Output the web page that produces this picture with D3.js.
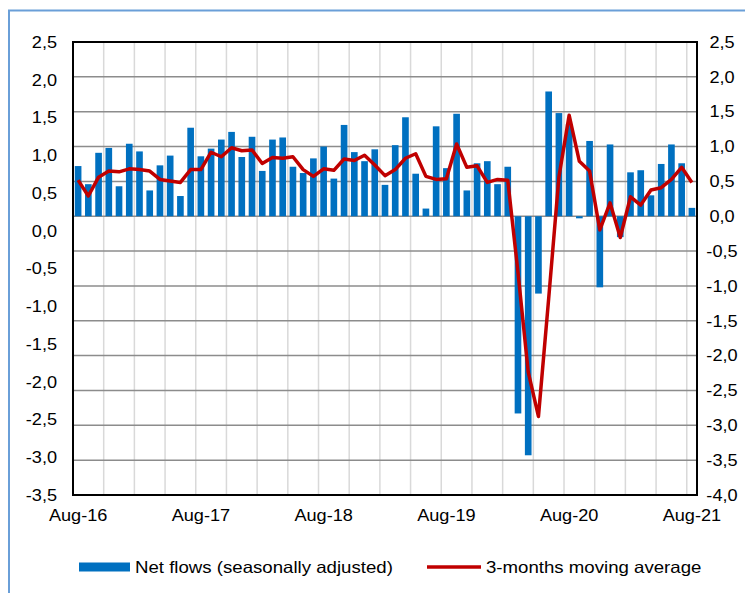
<!DOCTYPE html>
<html>
<head>
<meta charset="utf-8">
<script src="https://cdn.jsdelivr.net/npm/d3@7"></script>
<style>
    body { margin: 0; background: #fff; }
    svg text { font-family: "Liberation Sans", Arial, sans-serif; fill: #000; }
</style>
</head>
<body>
<div id="chart"></div>
<script>
// Monthly data, Aug-16 .. Aug-21
var startMonth = new Date(2016, 7, 1);
var months = d3.timeMonth.range(startMonth, new Date(2021, 8, 1));

// Net flows (seasonally adjusted), read against the right axis
var netFlows = [
    0.72, 0.46, 0.91, 0.98, 0.43, 1.04, 0.93, 0.37, 0.73, 0.87, 0.29, 1.27,
    0.86, 0.97, 1.10, 1.21, 0.85, 1.14, 0.65, 1.10, 1.13, 0.71, 0.62, 0.83,
    1.00, 0.54, 1.31, 0.92, 0.79, 0.96, 0.45, 1.02, 1.42, 0.61, 0.11, 1.29,
    0.69, 1.47, 0.37, 0.76, 0.79, 0.46, 0.71, -2.83, -3.43, -1.11, 1.79, 1.48,
    1.32, -0.03, 1.08, -1.02, 1.03, -0.30, 0.63, 0.66, 0.30, 0.75, 1.03, 0.76,
    0.12
];

// 3-months moving average, read against the left axis
var movingAvg = [
    0.67, 0.46, 0.71, 0.79, 0.78, 0.82, 0.81, 0.79, 0.68, 0.66, 0.64, 0.81,
    0.81, 1.04, 0.98, 1.10, 1.06, 1.07, 0.89, 0.97, 0.96, 0.98, 0.81, 0.72,
    0.82, 0.80, 0.95, 0.93, 1.00, 0.87, 0.73, 0.81, 0.96, 1.02, 0.72, 0.68,
    0.69, 1.15, 0.84, 0.86, 0.64, 0.68, 0.67, -0.55, -1.87, -2.46, -0.90, 0.71,
    1.53, 0.92, 0.79, 0.01, 0.37, -0.09, 0.45, 0.34, 0.54, 0.57, 0.68, 0.84,
    0.64
];

// Axis ticks
var xTickIndex = [0, 12, 24, 36, 48, 60];
var xTickLabels = ['Aug-16', 'Aug-17', 'Aug-18', 'Aug-19', 'Aug-20', 'Aug-21'];
var leftTicks = [-3.5, -3.0, -2.5, -2.0, -1.5, -1.0, -0.5, 0.0, 0.5, 1.0, 1.5, 2.0, 2.5];
var rightTicks = [-4.0, -3.5, -3.0, -2.5, -2.0, -1.5, -1.0, -0.5, 0.0, 0.5, 1.0, 1.5, 2.0, 2.5];

var seriesNames = ['Net flows (seasonally adjusted)', '3-months moving average'];

// Chart settings
var width = 745, height = 593;
var plot = { left: 73, right: 697, top: 42, bottom: 495 };
var barColor = '#0070C0', lineColor = '#C00000';
var fontSize = '16.5px', stretch = 1.1;

var locale = d3.formatLocale({ decimal: ',', thousands: '.', grouping: [3], currency: ['', ''], minus: '-' });
var fmt = locale.format('.1f');

var svg = d3.select('#chart')
    .append('svg')
    .attr('width', width)
    .attr('height', height);

// Scales
var x = d3.scaleBand()
    .domain(d3.range(months.length))
    .range([plot.left, plot.right])
    .paddingInner(0.35)
    .paddingOuter(0.175);

var yRight = d3.scaleLinear().domain([-4.0, 2.5]).range([plot.bottom, plot.top]);
var yLeft = d3.scaleLinear().domain([-3.5, 2.5]).range([plot.bottom, plot.top]);

// Widen text a little around its anchor point
function stretchText(sel, k) {
    sel.attr('transform', function() {
        var ax = +this.getAttribute('x') || 0;
        return 'translate(' + ax + ',0) scale(' + k + ',1) translate(' + (-ax) + ',0)';
    });
}

// Outer frame
svg.append('rect')
    .attr('x', 9).attr('y', 10.5)
    .attr('width', 800).attr('height', 700)
    .style('fill', 'none')
    .style('stroke', '#6A9FD8')
    .style('stroke-width', '2px');

// Vertical gridlines every 3 months
var vLines = d3.range(3, months.length, 3);
svg.append('g').selectAll('line')
    .data(vLines)
    .enter()
    .append('line')
        .attr('x1', d => plot.left + x.step() * d)
        .attr('x2', d => plot.left + x.step() * d)
        .attr('y1', plot.top)
        .attr('y2', plot.bottom)
        .style('stroke', '#D9D9D9')
        .style('stroke-width', '1.5px');

// Horizontal gridlines on the right axis ticks
svg.append('g').selectAll('line')
    .data(rightTicks.filter(d => d > -4 && d < 2.5))
    .enter()
    .append('line')
        .attr('x1', plot.left)
        .attr('x2', plot.right)
        .attr('y1', d => yRight(d))
        .attr('y2', d => yRight(d))
        .style('stroke', '#8C8C8C')
        .style('stroke-width', '1.5px');

// Bars
svg.append('g').selectAll('rect')
    .data(netFlows)
    .enter()
    .append('rect')
        .attr('x', (d, i) => x(i))
        .attr('width', x.bandwidth())
        .attr('y', d => yRight(Math.max(0, d)))
        .attr('height', d => Math.abs(yRight(d) - yRight(0)))
        .style('fill', barColor);

// Moving average line
var line = d3.line()
    .x((d, i) => x(i) + x.bandwidth() / 2)
    .y(d => yLeft(d));

svg.append('path')
    .datum(movingAvg)
    .attr('d', line)
    .style('fill', 'none')
    .style('stroke', lineColor)
    .style('stroke-width', '3.5px')
    .style('stroke-linejoin', 'round');

// Plot border
svg.append('rect')
    .attr('x', plot.left).attr('y', plot.top)
    .attr('width', plot.right - plot.left)
    .attr('height', plot.bottom - plot.top)
    .style('fill', 'none')
    .style('stroke', '#000')
    .style('stroke-width', '2px');

// Left axis
var leftAxis = svg.append('g')
    .attr('transform', 'translate(' + plot.left + ',0)')
    .call(d3.axisLeft(yLeft).tickValues(leftTicks).tickFormat(fmt).tickSize(0).tickPadding(16));

// Right axis (labels centred in their column)
var rightAxis = svg.append('g')
    .attr('transform', 'translate(' + plot.right + ',0)')
    .call(d3.axisRight(yRight).tickValues(rightTicks).tickFormat(fmt).tickSize(0).tickPadding(25));
rightAxis.selectAll('text').attr('text-anchor', 'middle');

// Bottom axis
var bottomAxis = svg.append('g')
    .attr('transform', 'translate(0,' + plot.bottom + ')')
    .call(d3.axisBottom(x).tickValues(xTickIndex)
        .tickFormat((d, i) => xTickLabels[i]).tickSize(0).tickPadding(14));

[leftAxis, rightAxis, bottomAxis].forEach(g => {
    g.select('.domain').remove();
    g.selectAll('text')
        .style('font-family', '"Liberation Sans", Arial, sans-serif')
        .style('font-size', fontSize)
        .style('fill', '#000')
        .call(stretchText, stretch);
});

// Legend
var legend = svg.append('g').attr('transform', 'translate(0,567)');

legend.append('rect')
    .attr('x', 79).attr('y', -4.5)
    .attr('width', 51).attr('height', 9)
    .style('fill', barColor);

legend.append('text')
    .attr('x', 135).attr('y', 0)
    .attr('dy', '0.35em')
    .text(seriesNames[0])
    .style('font-size', fontSize)
    .call(stretchText, 1.13);

legend.append('line')
    .attr('x1', 427).attr('x2', 481)
    .attr('y1', 0).attr('y2', 0)
    .style('stroke', lineColor)
    .style('stroke-width', '3.5px');

legend.append('text')
    .attr('x', 486).attr('y', 0)
    .attr('dy', '0.35em')
    .text(seriesNames[1])
    .style('font-size', fontSize)
    .call(stretchText, 1.13);
</script>
</body>
</html>
